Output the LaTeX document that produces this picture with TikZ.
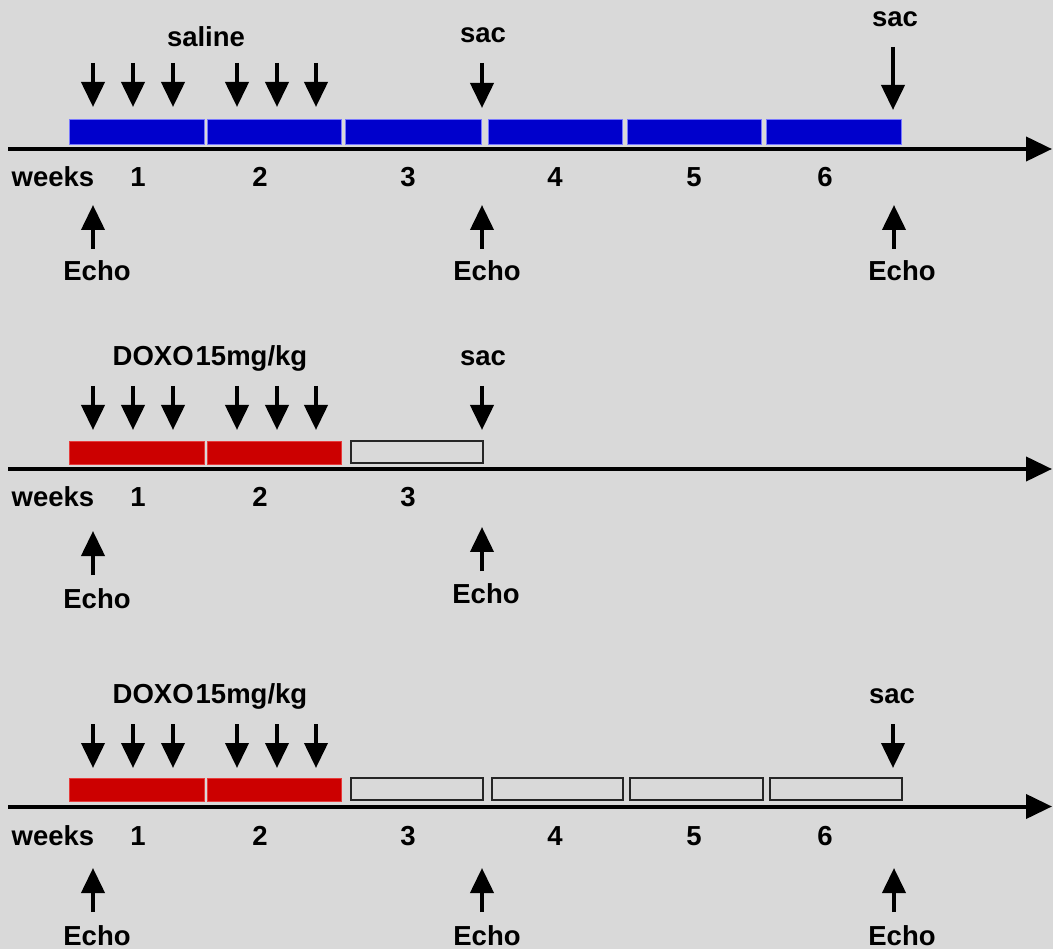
\documentclass[tikz,border=0pt]{standalone}
\usepackage{fontspec}
\setmainfont{Liberation Sans}
\usetikzlibrary{arrows.meta}
\definecolor{bg}{RGB}{217,217,217}
\definecolor{barblue}{RGB}{0,0,204}
\definecolor{bluerim}{RGB}{120,120,255}
\definecolor{barred}{RGB}{204,0,0}
\definecolor{redrim}{RGB}{230,60,60}
\tikzset{
  lbl/.style={font=\fontsize{27.5}{30}\selectfont\bfseries, inner sep=0pt, anchor=base},
  arr/.style={line width=4pt, -{Triangle[width=23pt,length=25pt]}},
  axisline/.style={line width=4pt, -{Triangle[width=24pt,length=26pt]}},
  barbase/.style={rectangle, inner sep=0pt, outer sep=0pt},
  bluebar/.style={barbase, fill=barblue, draw=bluerim, line width=0.8pt},
  redbar/.style={barbase, fill=barred, draw=redrim, line width=0.6pt},
  emptybar/.style={barbase, draw=black!85, line width=2.4pt}
}
\newcommand\mkbar[6]{%
  \node[#6, anchor=north west, minimum width={(#3-#2)*1pt}, minimum height={(#5-#4)*1pt}] (#1) at (#2,#4) {};}
\begin{document}
\begin{tikzpicture}[x=1pt,y=-1pt]
\fill[bg] (0,0) rectangle (1053,949);
\useasboundingbox (0,0) rectangle (1053,949);

% ===== Row 1 =====
\mkbar{b11}{69}{204}{119}{144}{bluebar}
\mkbar{b12}{207}{341}{119}{144}{bluebar}
\mkbar{b13}{345}{481}{119}{144}{bluebar}
\mkbar{b14}{488}{622}{119}{144}{bluebar}
\mkbar{b15}{627}{761}{119}{144}{bluebar}
\mkbar{b16}{766}{901}{119}{144}{bluebar}
\coordinate (ax1s) at (8,149);
\coordinate (ax1e) at (1052,149);
\draw[axisline] (ax1s) -- (ax1e);
\foreach \x [count=\i] in {93,133,173,237,277,316}{
  \coordinate (r1d\i s) at (\x,63);
  \coordinate (r1d\i e) at (\x,107);
  \draw[arr] (r1d\i s) -- (r1d\i e);
}
\node[lbl] (saline) at (206,47) {saline};
\node[lbl] (sac1a) at (483,43) {sac};
\coordinate (r1sa) at (482,63);
\coordinate (r1sb) at (482,108);
\draw[arr] (r1sa) -- (r1sb);
\node[lbl] (sac1b) at (895,27) {sac};
\coordinate (r1sc) at (893,47);
\coordinate (r1sd) at (893,110);
\draw[arr] (r1sc) -- (r1sd);
\node[lbl] (wk1) at (53,187) {weeks};
\foreach \x/\t in {138/1,260/2,408/3,555/4,694/5,825/6}{
  \node[lbl] (n1\t) at (\x,187) {\t};
}
\coordinate (r1u1b) at (93,249);  \coordinate (r1u1t) at (93,205);
\coordinate (r1u2b) at (482,249); \coordinate (r1u2t) at (482,205);
\coordinate (r1u3b) at (894,249); \coordinate (r1u3t) at (894,205);
\draw[arr] (r1u1b) -- (r1u1t);
\draw[arr] (r1u2b) -- (r1u2t);
\draw[arr] (r1u3b) -- (r1u3t);
\node[lbl] (e11) at (97,281) {Echo};
\node[lbl] (e12) at (487,281) {Echo};
\node[lbl] (e13) at (902,281) {Echo};

% ===== Row 2 =====
\mkbar{b21}{69}{204}{441}{464}{redbar}
\mkbar{b22}{207}{341}{441}{464}{redbar}
\mkbar{b23}{351}{483}{441}{463}{emptybar}
\coordinate (ax2s) at (8,469);
\coordinate (ax2e) at (1052,469);
\draw[axisline] (ax2s) -- (ax2e);
\foreach \x [count=\i] in {93,133,173,237,277,316}{
  \coordinate (r2d\i s) at (\x,386);
  \coordinate (r2d\i e) at (\x,430);
  \draw[arr] (r2d\i s) -- (r2d\i e);
}
\node[lbl] (doxo2) at (210,366) {DOXO\kern2pt15mg/kg};
\node[lbl] (sac2) at (483,366) {sac};
\coordinate (r2sa) at (482,386);
\coordinate (r2sb) at (482,430);
\draw[arr] (r2sa) -- (r2sb);
\node[lbl] (wk2) at (53,507) {weeks};
\foreach \x/\t in {138/1,260/2,408/3}{
  \node[lbl] (n2\t) at (\x,507) {\t};
}
\coordinate (r2u1b) at (93,575);  \coordinate (r2u1t) at (93,531);
\coordinate (r2u2b) at (482,571); \coordinate (r2u2t) at (482,527);
\draw[arr] (r2u1b) -- (r2u1t);
\draw[arr] (r2u2b) -- (r2u2t);
\node[lbl] (e21) at (97,608) {Echo};
\node[lbl] (e22) at (486,603) {Echo};

% ===== Row 3 =====
\mkbar{b31}{69}{204}{778}{801}{redbar}
\mkbar{b32}{207}{341}{778}{801}{redbar}
\mkbar{b33}{351}{483}{778}{800}{emptybar}
\mkbar{b34}{492}{623}{778}{800}{emptybar}
\mkbar{b35}{630}{763}{778}{800}{emptybar}
\mkbar{b36}{770}{902}{778}{800}{emptybar}
\coordinate (ax3s) at (8,806.5);
\coordinate (ax3e) at (1052,806.5);
\draw[axisline] (ax3s) -- (ax3e);
\foreach \x [count=\i] in {93,133,173,237,277,316}{
  \coordinate (r3d\i s) at (\x,724);
  \coordinate (r3d\i e) at (\x,768);
  \draw[arr] (r3d\i s) -- (r3d\i e);
}
\node[lbl] (doxo3) at (210,703) {DOXO\kern2pt15mg/kg};
\node[lbl] (sac3) at (892,703) {sac};
\coordinate (r3sa) at (893,724);
\coordinate (r3sb) at (893,768);
\draw[arr] (r3sa) -- (r3sb);
\node[lbl] (wk3) at (53,845) {weeks};
\foreach \x/\t in {138/1,260/2,408/3,555/4,694/5,825/6}{
  \node[lbl] (n3\t) at (\x,845) {\t};
}
\coordinate (r3u1b) at (93,912);  \coordinate (r3u1t) at (93,868);
\coordinate (r3u2b) at (482,912); \coordinate (r3u2t) at (482,868);
\coordinate (r3u3b) at (894,912); \coordinate (r3u3t) at (894,868);
\draw[arr] (r3u1b) -- (r3u1t);
\draw[arr] (r3u2b) -- (r3u2t);
\draw[arr] (r3u3b) -- (r3u3t);
\node[lbl] (e31) at (97,945) {Echo};
\node[lbl] (e32) at (487,945) {Echo};
\node[lbl] (e33) at (902,945) {Echo};
\end{tikzpicture}
\end{document}
